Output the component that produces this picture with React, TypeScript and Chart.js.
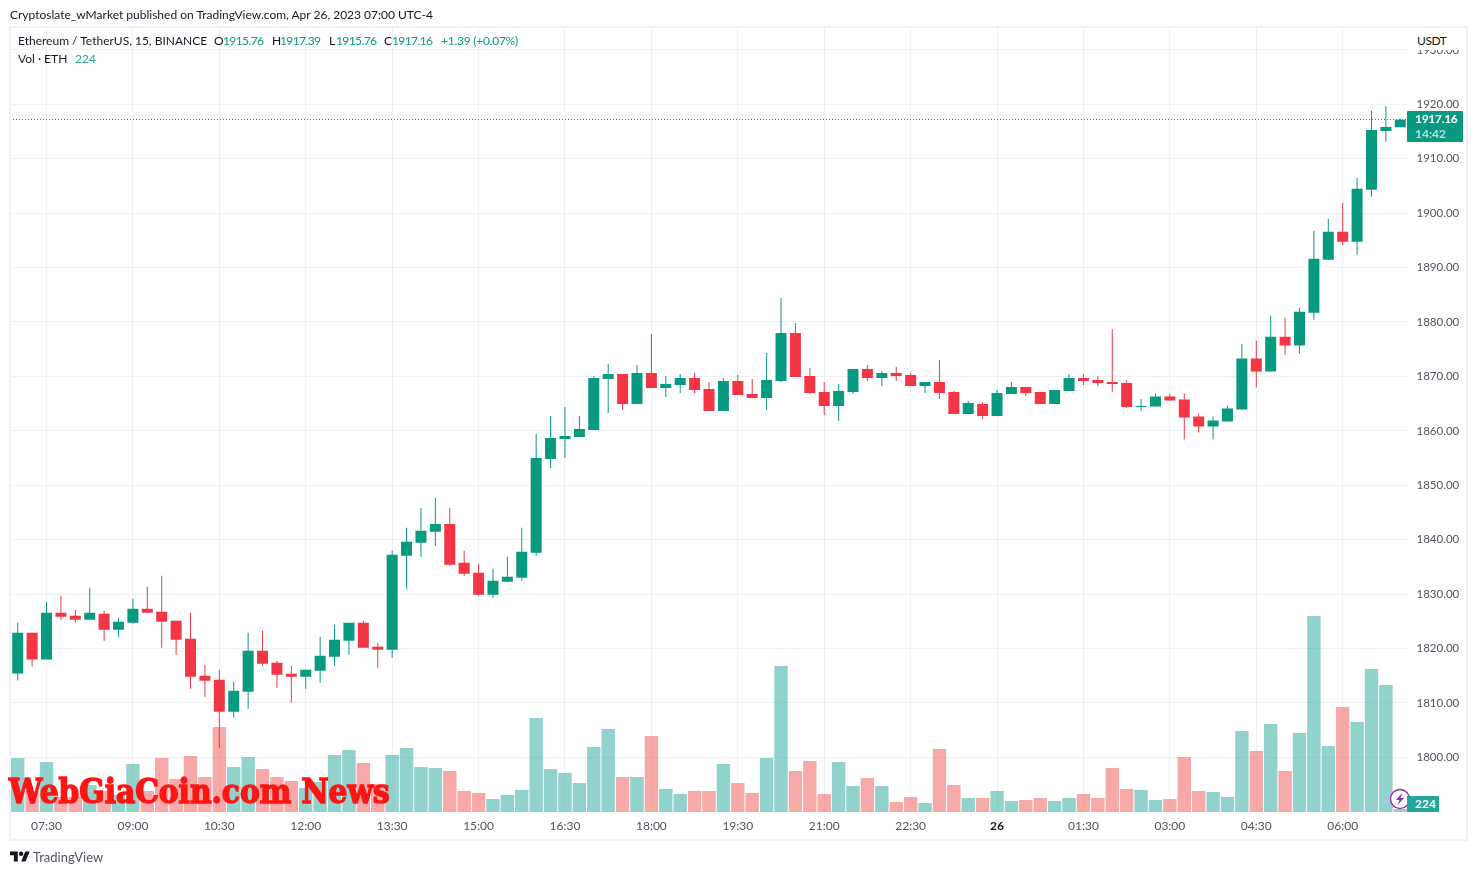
import React, { useEffect, useRef } from "react";
import { Chart, registerables } from "chart.js";

Chart.register(...registerables);

const times = [
  "07:00","07:15","07:30","07:45","08:00","08:15","08:30","08:45","09:00","09:15","09:30","09:45",
  "10:00","10:15","10:30","10:45","11:00","11:15","11:30","11:45","12:00","12:15","12:30","12:45",
  "13:00","13:15","13:30","13:45","14:00","14:15","14:30","14:45","15:00","15:15","15:30","15:45",
  "16:00","16:15","16:30","16:45","17:00","17:15","17:30","17:45","18:00","18:15","18:30","18:45",
  "19:00","19:15","19:30","19:45","20:00","20:15","20:30","20:45","21:00","21:15","21:30","21:45",
  "22:00","22:15","22:30","22:45","23:00","23:15","23:30","23:45","26","00:15","00:30","00:45",
  "01:00","01:15","01:30","01:45","02:00","02:15","02:30","02:45","03:00","03:15","03:30","03:45",
  "04:00","04:15","04:30","04:45","05:00","05:15","05:30","05:45","06:00","06:15","06:30","06:45","07:00",
];
const tickLabels = ["07:30","09:00","10:30","12:00","13:30","15:00","16:30","18:00","19:30","21:00","22:30","26","01:30","03:00","04:30","06:00"];

const opens = [
  1815.43,1822.90,1818.00,1826.57,1826.02,1825.28,1826.39,1823.45,1824.73,1827.31,
  1826.75,1825.10,1821.79,1815.00,1814.26,1808.38,1812.06,1819.59,1817.39,1815.36,
  1814.81,1815.92,1818.49,1821.43,1824.73,1820.32,1819.77,1837.03,1839.42,1841.44,
  1842.90,1835.75,1833.91,1829.88,1832.26,1833.00,1837.58,1854.83,1858.50,1858.87,
  1860.15,1869.51,1870.43,1864.92,1870.61,1867.86,1868.41,1869.69,1867.68,1863.64,
  1869.14,1866.76,1866.02,1869.14,1877.96,1870.06,1867.12,1864.55,1867.12,1871.35,
  1869.69,1870.61,1870.24,1868.22,1868.96,1867.12,1863.08,1864.92,1862.71,1866.75,
  1868.04,1867.12,1864.92,1867.31,1869.69,1869.33,1868.96,1868.78,1864.37,1864.47,
  1866.30,1865.75,1862.63,1860.80,1861.71,1863.91,1873.27,1870.89,1877.31,1875.66,
  1881.71,1891.44,1896.57,1894.74,1904.28,1915.11,1915.76,
];
const highs = [
  1824.73,1822.90,1828.59,1829.69,1827.12,1831.16,1826.94,1825.65,1829.14,1831.35,
  1833.37,1825.10,1826.57,1817.02,1816.10,1813.90,1822.90,1823.26,1817.75,1816.83,
  1816.10,1822.16,1824.37,1824.73,1825.10,1821.06,1837.95,1842.17,1845.84,1847.68,
  1845.84,1837.95,1835.57,1834.65,1836.85,1842.17,1859.42,1862.72,1864.37,1862.72,
  1870.06,1872.26,1870.43,1872.08,1877.80,1870.06,1870.43,1870.61,1868.96,1869.69,
  1870.24,1869.51,1874.29,1884.39,1879.80,1871.53,1868.96,1868.59,1871.35,1872.08,
  1870.98,1871.71,1870.61,1868.96,1873.00,1867.31,1865.47,1865.28,1867.49,1868.96,
  1868.04,1867.12,1867.49,1870.43,1870.43,1870.06,1878.70,1869.33,1865.84,1866.85,
  1866.85,1866.85,1863.18,1862.63,1864.65,1876.02,1876.57,1881.16,1880.79,1882.63,
  1896.76,1898.96,1901.90,1906.48,1918.78,1919.69,1917.39,
];
const lows = [
  1814.14,1816.71,1818.00,1825.28,1824.73,1825.28,1821.43,1822.16,1824.55,1826.57,
  1820.14,1818.85,1812.61,1811.14,1801.77,1807.28,1808.93,1816.83,1812.79,1810.04,
  1812.61,1813.71,1816.83,1818.85,1820.14,1816.47,1818.30,1830.98,1836.85,1838.87,
  1835.20,1833.36,1829.69,1829.33,1832.26,1832.45,1837.03,1853.18,1855.02,1858.87,
  1860.15,1863.27,1863.82,1864.92,1867.86,1866.21,1866.94,1866.94,1863.64,1863.64,
  1866.57,1866.02,1863.82,1868.96,1869.88,1866.75,1862.90,1861.79,1866.75,1869.14,
  1868.22,1869.14,1868.22,1866.94,1865.84,1863.08,1863.08,1862.16,1862.71,1866.75,
  1866.39,1864.92,1864.92,1867.31,1868.41,1868.22,1867.12,1864.18,1863.63,1864.47,
  1865.57,1858.41,1859.69,1858.41,1861.71,1863.91,1867.95,1870.89,1874.00,1874.19,
  1880.43,1891.44,1894.19,1892.35,1903.00,1913.09,1915.76,
];
const closes = [
  1822.90,1818.00,1826.57,1825.84,1825.28,1826.57,1823.45,1824.92,1827.31,1826.57,
  1824.92,1821.61,1814.81,1814.08,1808.38,1812.24,1819.59,1817.20,1815.18,1814.81,
  1816.10,1818.67,1821.61,1824.73,1820.14,1819.77,1837.22,1839.60,1841.62,1842.90,
  1835.38,1833.73,1829.88,1832.45,1833.18,1837.77,1855.02,1858.68,1859.05,1860.34,
  1869.69,1870.43,1864.92,1870.61,1867.86,1868.59,1869.69,1867.49,1863.64,1869.14,
  1866.57,1866.02,1869.33,1877.96,1869.88,1866.94,1864.55,1867.31,1871.35,1869.69,
  1870.61,1870.06,1868.22,1868.96,1866.94,1863.08,1865.10,1862.71,1866.94,1868.04,
  1866.94,1864.92,1867.49,1869.69,1869.14,1868.78,1868.59,1864.37,1864.55,1866.30,
  1865.57,1862.45,1860.80,1861.90,1864.10,1873.27,1870.89,1877.31,1875.66,1881.90,
  1891.62,1896.57,1894.74,1904.47,1915.29,1915.84,1917.16,
];
const volumes = [
  4050,1575,3750,1125,1125,2025,1575,1275,3600,1575,
  4050,2475,4200,2625,6375,3375,4125,3225,2625,2325,
  1800,2250,4275,4650,3675,2100,4275,4800,3375,3300,
  3075,1575,1425,975,1275,1650,7050,3225,2925,2175,
  4875,6225,2625,2625,5700,1725,1350,1575,1575,3600,
  2175,1425,4050,10950,3075,3825,1350,3750,1950,2550,
  1950,750,1125,675,4725,2025,1050,1050,1575,825,
  900,1050,825,1050,1350,1050,3300,1725,1650,900,
  975,4125,1575,1500,1125,6075,4575,6600,3075,5925,
  14700,4950,7875,6750,10725,9525,224,
];

const UP = "#089981";
const DOWN = "#F23645";
const UP_VOL = "rgba(38,166,154,0.5)";
const DOWN_VOL = "rgba(239,83,80,0.5)";
const GRID = "#f0f1f4";
const FONT = "'Lato', sans-serif";

const isUp = (i: number) => closes[i] >= opens[i];

const priceLine = {
  id: "priceLine",
  afterDatasetsDraw(chart: any) {
    const { ctx, chartArea, scales } = chart;
    const y = Math.floor(scales.y.getPixelForValue(closes[closes.length - 1])) + 0.5;
    ctx.save();
    ctx.strokeStyle = UP;
    ctx.lineWidth = 1;
    ctx.setLineDash([1, 2]);
    ctx.beginPath();
    ctx.moveTo(Math.floor(chartArea.left), y);
    ctx.lineTo(chartArea.right, y);
    ctx.stroke();
    ctx.restore();
  },
};

const T = ({ x, y, c, s, w, ls, children }: any) => (
  <span
    style={{
      position: "absolute",
      left: x,
      top: y,
      color: c || "#131722",
      fontSize: s || 12,
      fontWeight: w || 400,
      letterSpacing: ls || 0,
      lineHeight: "14px",
      whiteSpace: "nowrap",
      fontFamily: FONT,
    }}
  >
    {children}
  </span>
);

export default function App() {
  const ref = useRef<HTMLCanvasElement>(null);
  useEffect(() => {
    const chart = new Chart(ref.current!, {
      type: "bar",
      data: {
        labels: times,
        datasets: [
          {
            label: "Vol",
            yAxisID: "yVol",
            data: volumes,
            backgroundColor: volumes.map((_, i) => (isUp(i) ? UP_VOL : DOWN_VOL)),
            barThickness: 13.4,
            grouped: false,
            inflateAmount: 0,
            order: 3,
          },
          {
            label: "Wick",
            yAxisID: "y",
            data: highs.map((h, i) => [lows[i], h]),
            backgroundColor: closes.map((_, i) => (isUp(i) ? UP : DOWN)),
            barThickness: 1,
            grouped: false,
            inflateAmount: 0,
            order: 2,
          },
          {
            label: "Body",
            yAxisID: "y",
            data: opens.map((o, i) => [o, closes[i]]),
            backgroundColor: closes.map((_, i) => (isUp(i) ? UP : DOWN)),
            barThickness: 11,
            grouped: false,
            inflateAmount: 0,
            order: 1,
          },
        ] as any,
      },
      options: {
        responsive: false,
        animation: false,
        devicePixelRatio: 1,
        events: [],
        layout: { padding: { left: 10.5, top: 28, right: 9.5, bottom: 35 } },
        plugins: { legend: { display: false }, tooltip: { enabled: false } },
        scales: {
          x: {
            offset: true,
            grid: { offset: false, color: GRID, lineWidth: 1, drawTicks: false },
            border: { display: false },
            afterBuildTicks: (s: any) => {
              s.ticks = s.ticks.filter((t: any) => tickLabels.includes(times[t.value]));
            },
            afterFit: (s: any) => {
              s.height = 28;
            },
            ticks: {
              autoSkip: false,
              maxRotation: 0,
              padding: 7,
              color: (c: any) => (times[c.tick?.value] === "26" ? "#131722" : "#50535e"),
              font: (c: any) => ({
                family: FONT,
                size: 12,
                weight: times[c.tick?.value] === "26" ? "bold" : "normal",
              }),
            },
          },
          y: {
            position: "right",
            min: 1789.96,
            max: 1934.02,
            grid: { color: GRID, lineWidth: 1, drawTicks: false },
            border: { display: false },
            afterBuildTicks: (s: any) => {
              s.ticks = s.ticks.filter((t: any) => t.value >= 1800);
            },
            afterFit: (s: any) => {
              s.width = 60;
            },
            ticks: {
              stepSize: 10,
              includeBounds: false,
              autoSkip: false,
              padding: 9,
              color: "#50535e",
              font: { family: FONT, size: 11.5 },
              callback: (v: any) => Number(v).toFixed(2),
            },
          },
          yVol: {
            display: false,
            min: 0,
            max: 58800,
          },
        },
      } as any,
      plugins: [priceLine],
    });
    return () => chart.destroy();
  }, []);

  return (
    <div style={{ position: "fixed", left: 0, top: 0, width: 1477, height: 875, background: "#fff", overflow: "hidden" }}>
      <canvas ref={ref} width={1477} height={875} style={{ position: "absolute", left: 0, top: 0, width: 1477, height: 875 }} />
      <div style={{ position: "absolute", left: 9, top: 26, width: 1459, height: 815, border: "2px solid #f0f1f5", boxSizing: "border-box" }} />
      <div style={{ position: "absolute", left: 1408, top: 28, width: 58, height: 22, background: "#fff" }} />

      <T x={10} y={8}>Cryptoslate_wMarket published on TradingView.com, Apr 26, 2023 07:00 UTC-4</T>

      <T x={18} y={34}>Ethereum / TetherUS, 15, BINANCE</T>
      <T x={214} y={34}>O</T>
      <T x={223} y={34} c={UP} ls={-0.6}>1915.76</T>
      <T x={272} y={34}>H</T>
      <T x={280} y={34} c={UP} ls={-0.6}>1917.39</T>
      <T x={329} y={34}>L</T>
      <T x={336} y={34} c={UP} ls={-0.6}>1915.76</T>
      <T x={384} y={34}>C</T>
      <T x={392} y={34} c={UP} ls={-0.6}>1917.16</T>
      <T x={441} y={34} c={UP} ls={-0.25}>+1.39 (+0.07%)</T>
      <T x={18} y={52}>Vol · ETH</T>
      <T x={75} y={52} c="#26a69a">224</T>

      <T x={1417} y={34} c="#131722" ls={-0.4}>USDT</T>

      <div style={{ position: "absolute", left: 1407, top: 111, width: 56, height: 31, background: UP, borderRadius: 1 }} />
      <T x={1415} y={112} c="#fff" w={700} ls={-0.3}>1917.16</T>
      <T x={1415} y={127} c="#b5e0d8" w={700}>14:42</T>

      <svg style={{ position: "absolute", left: 1389, top: 788 }} width={22} height={22} viewBox="0 0 22 22">
        <circle cx={11} cy={11} r={9.5} fill="#fff" stroke="#9C27B0" strokeWidth={1.4} />
        <path d="M13 5 L7 12 L10.5 12 L8.5 17 L15 10 L11.5 10 Z" fill="#9C27B0" />
      </svg>
      <div style={{ position: "absolute", left: 1407, top: 796, width: 32, height: 16, background: "#26a69a" }} />
      <T x={1415} y={797} c="#fff" w={700}>224</T>

      <div
        style={{
          position: "absolute",
          left: 9,
          top: 771,
          color: "#ff1414",
          fontFamily: "'DejaVu Serif Condensed', 'DejaVu Serif', serif",
          fontWeight: 900,
          fontSize: 33,
          lineHeight: "42px",
          whiteSpace: "nowrap",
          WebkitTextStroke: "1.4px #ff1414",
        }}
      >
        WebGiaCoin.com News
      </div>

      <svg style={{ position: "absolute", left: 10, top: 849 }} width={20} height={16} viewBox="0 0 36 28">
        <path d="M14 22H7V11H0V4h14v18zM28 22h-8l7.5-18h8L28 22z" fill="#131722" />
        <circle cx={20} cy={8} r={4} fill="#131722" />
      </svg>
      <T x={33} y={850} c="#50535e" s={13}>TradingView</T>
    </div>
  );
}
